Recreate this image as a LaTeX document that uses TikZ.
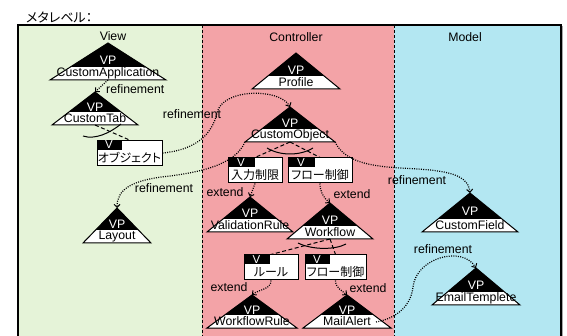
\documentclass[tikz,border=0pt]{standalone}
\usepackage{fontspec}
\setmainfont{Liberation Sans}
\newfontfamily\jp{Noto Sans CJK JP}[RawFeature=+palt]
\usetikzlibrary{arrows.meta,calc}
\definecolor{viewbg}{RGB}{229,243,216}
\definecolor{ctrlbg}{RGB}{243,163,167}
\definecolor{modelbg}{RGB}{179,231,242}
\tikzset{
  lbl/.style={font=\fontsize{12.3}{14}\selectfont, inner sep=0pt},
  vptxt/.style={text=white, font=\fontsize{12.3}{14}\selectfont, inner sep=0pt},
  nametxt/.style={font=\fontsize{12.3}{14}\selectfont, inner sep=0pt},
  jptxt/.style={font=\jp\fontsize{12}{14}\selectfont, inner sep=0pt},
  refl/.style={dash pattern=on 1pt off 1.3pt, line width=1.2pt, -{Straight Barb[length=3pt,width=6pt,line width=1pt]}},
  dashl/.style={dash pattern=on 4pt off 2.5pt, line width=1pt},
  arcl/.style={line width=1pt},
  vbx/.style={draw, fill=white, line width=1pt, inner sep=0pt, minimum height=25pt},
  sepline/.style={dash pattern=on 3pt off 2pt, line width=1pt},
}
\newcommand\vptri[6]{%
  \coordinate (#1-top) at (#2,#3);
  \coordinate (#1-bl) at ({#2-#4},{#3+#5});
  \coordinate (#1-br) at ({#2+#4},{#3+#5});
  \coordinate (#1-bot) at (#2,{#3+#5});
  \fill[black] (#1-top) -- (#1-bl) -- (#1-br) -- cycle;
  \begin{scope}
    \clip (#1-top) -- (#1-bl) -- (#1-br) -- cycle;
    \fill[white] ({#2-#4},{#3+#5-13}) rectangle ({#2+#4},{#3+#5});
  \end{scope}
  \draw[line width=1pt] (#1-top) -- (#1-bl) -- (#1-br) -- cycle;
  \node[vptxt] (#1-vp) at (#2,{#3+#5*0.47}) {VP};
  \node[nametxt] (#1) at (#2,{#3+#5-6.5}) {#6};
}
\newcommand\mkvbx[6]{% name, cx, cy, width, vwidth, text
  \node[vbx, minimum width=#4pt] (#1) at (#2,#3) {};
  \fill[black] (#1.north west) rectangle ++(#5,10);
  \node[vptxt, font=\fontsize{11.5}{13}\selectfont] (#1-v) at ($(#1.north west)+(#5/2,5)$) {V};
  \node[jptxt] (#1-t) at ($(#1.north)+(0,17.5)$) {#6};
}
\begin{document}
\begin{tikzpicture}[x=1pt,y=-1pt]
\useasboundingbox (0,0) rectangle (567,336);
\clip (0,0) rectangle (567,336);
% regions
\fill[viewbg] (18,25) rectangle (202,345);
\fill[ctrlbg] (202,25) rectangle (394,345);
\fill[modelbg] (394,25) rectangle (561,345);
\fill[black!35] (561.75,26) rectangle (563,345);
\draw[sepline] (202,25) -- (202,345);
\draw[sepline] (394,25) -- (394,345);
\draw[line width=1.5pt] (18,345) -- (18,25) -- (561,25) -- (561,345);
\node[jptxt, font=\jp\fontsize{13}{15}\selectfont, anchor=west] (title) at (26,17) {メタレベル：};
\node[lbl] (hv) at (113,36) {View};
\node[lbl] (hc) at (296,37) {Controller};
\node[lbl] (hm) at (465,37) {Model};
% triangles
\vptri{ca}{108}{43}{58}{37}{CustomApplication}
\vptri{ct}{95}{92}{43}{33}{CustomTab}
\vptri{pr}{296}{53}{44}{36}{Profile}
\vptri{co}{290}{107}{45}{35}{CustomObject}
\vptri{la}{117}{208}{34}{35}{Layout}
\vptri{vr}{250}{197}{43}{35}{ValidationRule}
\vptri{wf}{330}{203}{43}{36}{Workflow}
\vptri{wr}{252}{295}{45}{33}{WorkflowRule}
\vptri{ma}{347}{295}{44}{33}{MailAlert}
\vptri{cf}{470}{193}{48}{39}{CustomField}
\vptri{et}{476}{268}{44}{37}{EmailTemplete}
% variant boxes
\mkvbx{obj}{129.5}{153}{65}{25}{オブジェクト}
\mkvbx{inp}{255}{170.5}{54}{27}{入力制限}
\mkvbx{fca}{320}{170.5}{64}{27}{フロー制御}
\mkvbx{rul}{271}{267.5}{54}{26}{ルール}
\mkvbx{fcb}{335.5}{267.5}{61}{25}{フロー制御}
% variability lines
\draw[dashl] (ct-bot) -- (obj.north);
\draw[arcl] (83,136) .. controls (95,140) and (110,133) .. (121,124);
\draw[dashl] (co-bot) -- (inp.north);
\draw[dashl] (co-bot) -- (fca.north);
\draw[arcl] (267,148) .. controls (280,156) and (300,156) .. (313,148);
\draw[dashl] (wf-bot) -- (rul.north);
\draw[dashl] (wf-bot) -- (fcb.north);
\draw[arcl] (298,243) .. controls (312,250) and (335,250) .. (346,244);
% refinement
\draw[refl] (ca-bot) -- (ct-top);
\node[lbl, anchor=west] (lref1) at (106,89) {refinement};
\draw[refl] (obj.east) .. controls (195,150) and (212,135) .. (217,113) .. controls (222,88) and (280,88) .. (co-top);
\node[lbl] (lref2) at (192,114) {refinement};
\draw[refl] (co-bl) .. controls (235,165) and (200,172) .. (170,176) .. controls (130,180) and (117,190) .. (la-top);
\node[lbl] (lref3) at (164,188) {refinement};
\draw[refl] (co-br) .. controls (345,162) and (370,166) .. (400,168) .. controls (440,170) and (468,172) .. (cf-top);
\node[lbl] (lref4) at (417,180) {refinement};
\coordinate (ma-out) at (376,322);
\draw[refl] (ma-out) .. controls (398,318) and (411,305) .. (413,287) .. controls (416,258) and (462,245) .. (et-top);
\node[lbl] (lref5) at (443,249) {refinement};
% extend
\draw[refl] (inp.south) -- (vr-top);
\node[lbl] (lext1) at (225,192) {extend};
\draw[refl] (fca.south) to[out=-90,in=140] (wf-top);
\node[lbl] (lext2) at (352,194) {extend};
\draw[refl] (rul.south) to[out=-90,in=40] (wr-top);
\node[lbl] (lext3) at (229,287) {extend};
\draw[refl] (fcb.south) to[out=-90,in=140] (ma-top);
\node[lbl] (lext4) at (368,288) {extend};
\end{tikzpicture}
\end{document}
